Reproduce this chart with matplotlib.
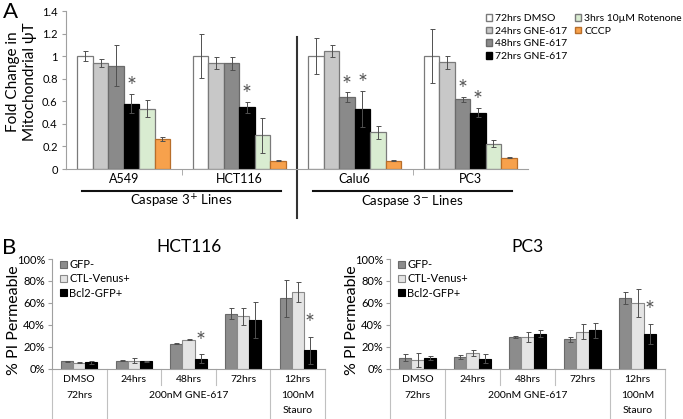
import matplotlib.pyplot as plt
import numpy as np
from matplotlib.patches import Patch
from matplotlib.ticker import FuncFormatter

plt.rcParams['font.family'] = ['Lato', 'DejaVu Sans']

# ---- panel A data (fold change in mitochondrial potential)
cell_lines = ['A549', 'HCT116', 'Calu6', 'PC3']
treatments = ['72hrs DMSO', '24hrs GNE-617', '48hrs GNE-617', '72hrs GNE-617',
              '3hrs 10\u00b5M Rotenone', 'CCCP']
dmso = [1.00, 1.00, 1.00, 1.00]
gne24 = [0.94, 0.935, 1.045, 0.945]
gne48 = [0.915, 0.935, 0.635, 0.62]
gne72 = [0.58, 0.545, 0.535, 0.50]
roten = [0.535, 0.30, 0.325, 0.225]
cccp = [0.265, 0.075, 0.075, 0.10]
dmso_err = [0.045, 0.195, 0.16, 0.24]
gne24_err = [0.035, 0.053, 0.057, 0.055]
gne48_err = [0.18, 0.055, 0.043, 0.022]
gne72_err = [0.085, 0.05, 0.16, 0.038]
roten_err = [0.077, 0.155, 0.06, 0.03]
cccp_err = [0.015, 0.005, 0.005, 0.003]
star48 = [0, 0, 1, 1]
star72 = [1, 1, 1, 1]

# ---- panel B data (% PI permeable)
conds = ['DMSO', '24hrs', '48hrs', '72hrs', '12hrs']
groups_b = ['GFP-', 'CTL-Venus+', 'Bcl2-GFP+']
hct_gfp = [6.7, 7.3, 22.7, 50.0, 64.0]
hct_ctl = [5.3, 7.3, 26.4, 47.5, 69.7]
hct_bcl = [5.5, 6.4, 9.1, 44.5, 16.5]
hct_gfp_err = [0.5, 0.3, 0.5, 5.0, 17.0]
hct_ctl_err = [0.3, 2.0, 0.4, 8.0, 9.0]
hct_bcl_err = [1.8, 0.8, 3.8, 16.5, 12.5]
hct_star = [0, 0, 1, 0, 1]
pc3_gfp = [10.0, 10.3, 28.5, 26.7, 64.5]
pc3_ctl = [7.9, 14.2, 29.0, 33.6, 60.0]
pc3_bcl = [9.4, 9.1, 31.8, 34.8, 31.5]
pc3_gfp_err = [3.6, 2.0, 0.8, 2.5, 5.5]
pc3_ctl_err = [6.5, 3.0, 4.5, 7.0, 13.0]
pc3_bcl_err = [2.0, 4.5, 3.0, 7.0, 9.5]
pc3_star = [0, 0, 0, 0, 1]

colors_a = ['#ffffff', '#c8c8c8', '#8a8a8a', '#000000', '#d9ecd1', '#f7a14c']
edges_a = ['#7a7a7a', '#7a7a7a', '#6a6a6a', '#000000', '#7a7a7a', '#b86e2a']
colors_b = ['#8c8c8c', '#e4e4e4', '#000000']
edges_b = ['#6a6a6a', '#8a8a8a', '#000000']
grey = '#a0a0a0'
star_col = '#555555'

W, H = 683, 419
fig = plt.figure(figsize=(W / 100, H / 100), dpi=100)


def box(l, t, r, b):
    return [l / W, 1 - b / H, (r - l) / W, (b - t) / H]


# ================= panel A
ax = fig.add_axes(box(66, 11, 528, 169))
x = np.arange(len(cell_lines))
bw = 0.134
vals = [dmso, gne24, gne48, gne72, roten, cccp]
errs = [dmso_err, gne24_err, gne48_err, gne72_err, roten_err, cccp_err]
handles = []
for i, (v, e) in enumerate(zip(vals, errs)):
    xs = x + (i - 2.5) * bw
    ax.bar(xs, v, bw, color=colors_a[i], edgecolor=edges_a[i], linewidth=0.9)
    ax.errorbar(xs, v, yerr=e, fmt='none', ecolor='#505050', elinewidth=0.7,
                capsize=1.8, capthick=0.7)
    handles.append(Patch(facecolor=colors_a[i], edgecolor=edges_a[i], label=treatments[i]))
for j in range(len(cell_lines)):
    if star48[j]:
        ax.text(x[j] - 0.5 * bw, gne48[j] + gne48_err[j] + 0.065, '*', ha='center',
                va='center', fontsize=17, color=star_col)
    if star72[j]:
        ax.text(x[j] + 0.5 * bw, gne72[j] + gne72_err[j] + 0.065, '*', ha='center',
                va='center', fontsize=17, color=star_col)

ax.set_xlim(-0.5, 3.5)
ax.set_ylim(0, 1.4)
ax.set_yticks(np.arange(0, 1.41, 0.2))
ax.yaxis.set_major_formatter(FuncFormatter(lambda v, p: f'{v:g}'))
ax.set_xticks(x)
ax.set_xticklabels(cell_lines, fontsize=9)
ax.set_xticks([0.5, 1.5, 2.5], minor=True)
ax.tick_params(axis='x', which='major', length=0, pad=3)
ax.tick_params(axis='x', which='minor', length=4, color=grey, direction='out')
ax.tick_params(axis='y', length=3, color=grey, labelsize=8, pad=3)
for s in ['top', 'right']:
    ax.spines[s].set_visible(False)
for s in ['left', 'bottom']:
    ax.spines[s].set_color(grey)
ax.set_ylabel('Fold Change in\nMitochondrial \u03c8T', fontsize=11, linespacing=1.3)
ax.yaxis.set_label_coords(-0.062, 0.55)

# divider between caspase 3+ and caspase 3- lines
ax.plot([1.5, 1.5], [-0.43, 1.17], color='#333333', lw=1.5, clip_on=False)
for cx, txt in [(0.5, 'Caspase 3$^{+}$ Lines'), (2.5, 'Caspase 3$^{-}$ Lines')]:
    ax.plot([cx - 0.86, cx + 0.86], [-0.139 * 1.4] * 2, color='#111111', lw=1.5,
            clip_on=False)
    ax.text(cx, -0.205 * 1.4, txt, ha='center', va='center', fontsize=9.5)

leg_kw = dict(frameon=False, fontsize=7.5, handlelength=0.6, handleheight=0.6,
              handletextpad=0.3, labelspacing=0.35, borderaxespad=0, borderpad=0)
fig.legend(handles=handles[:4], loc='upper left',
           bbox_to_anchor=(486 / W, 1 - 14 / H), **leg_kw)
fig.legend(handles=handles[4:], loc='upper right',
           bbox_to_anchor=(682 / W, 1 - 14 / H), **leg_kw)

fig.text(3 / W, 1 - 2 / H, 'A', fontsize=16, va='top', ha='left')
fig.text(2 / W, 1 - 238 / H, 'B', fontsize=16, va='top', ha='left')


# ================= panel B
def pi_panel(rect, title, gfp, ctl, bcl, gfp_err, ctl_err, bcl_err, stars):
    ax = fig.add_axes(rect)
    xb = np.arange(len(conds))
    w = 0.22
    for i, (v, e) in enumerate(zip([gfp, ctl, bcl], [gfp_err, ctl_err, bcl_err])):
        xs = xb + (i - 1) * w
        ax.bar(xs, v, w, color=colors_b[i], edgecolor=edges_b[i], linewidth=0.8,
               label=groups_b[i])
        ax.errorbar(xs, v, yerr=e, fmt='none', ecolor='#505050', elinewidth=0.7,
                    capsize=1.8, capthick=0.7)
    for j in range(len(conds)):
        if stars[j]:
            ax.text(xb[j] + w, bcl[j] + bcl_err[j] + 12, '*', ha='center',
                    va='center', fontsize=17, color=star_col)
    ax.set_xlim(-0.5, 4.5)
    ax.set_ylim(0, 100)
    ax.set_yticks(np.arange(0, 101, 20))
    ax.yaxis.set_major_formatter(FuncFormatter(lambda v, p: f'{v:.0f}%'))
    ax.tick_params(axis='y', length=3, color=grey, labelsize=8, pad=2)
    ax.set_xticks([])
    for s in ['top', 'right']:
        ax.spines[s].set_visible(False)
    for s in ['left', 'bottom']:
        ax.spines[s].set_color(grey)
    ax.set_ylabel('% PI Permeable', fontsize=11.5)
    ax.yaxis.set_label_coords(-0.112, 0.44)
    ax.set_title(title, fontsize=12.5, pad=5)
    ax.legend(loc='upper left', bbox_to_anchor=(0.03, 1.0), frameon=False,
              fontsize=8, handlelength=0.6, handleheight=0.6,
              handletextpad=0.2, labelspacing=0.3, borderaxespad=0, borderpad=0)

    # two-level category table under the axis
    tr = ax.get_xaxis_transform()
    for b in [-0.5, 0.5, 3.5, 4.5]:
        ax.plot([b, b], [0, -0.45], color='#c0c0c0', lw=0.8, transform=tr,
                clip_on=False)
    for b in [1.5, 2.5]:
        ax.plot([b, b], [0, -0.15], color='#c0c0c0', lw=0.8, transform=tr,
                clip_on=False)
    for j, c in enumerate(conds):
        ax.text(xb[j], -0.105, c, transform=tr, ha='center', va='center', fontsize=7.5)
    ax.text(0, -0.245, '72hrs', transform=tr, ha='center', va='center', fontsize=7.5)
    ax.text(2, -0.245, '200nM GNE-617', transform=tr, ha='center', va='center',
            fontsize=7.5)
    ax.text(4, -0.245, '100nM', transform=tr, ha='center', va='center', fontsize=7.5)
    ax.text(4, -0.385, 'Stauro', transform=tr, ha='center', va='center', fontsize=7.5)
    return ax


pi_panel(box(52, 259, 325, 368.5), 'HCT116', hct_gfp, hct_ctl, hct_bcl,
         hct_gfp_err, hct_ctl_err, hct_bcl_err, hct_star)
pi_panel(box(390, 259, 665, 368.5), 'PC3', pc3_gfp, pc3_ctl, pc3_bcl,
         pc3_gfp_err, pc3_ctl_err, pc3_bcl_err, pc3_star)

fig.savefig('out.png', dpi=100)
